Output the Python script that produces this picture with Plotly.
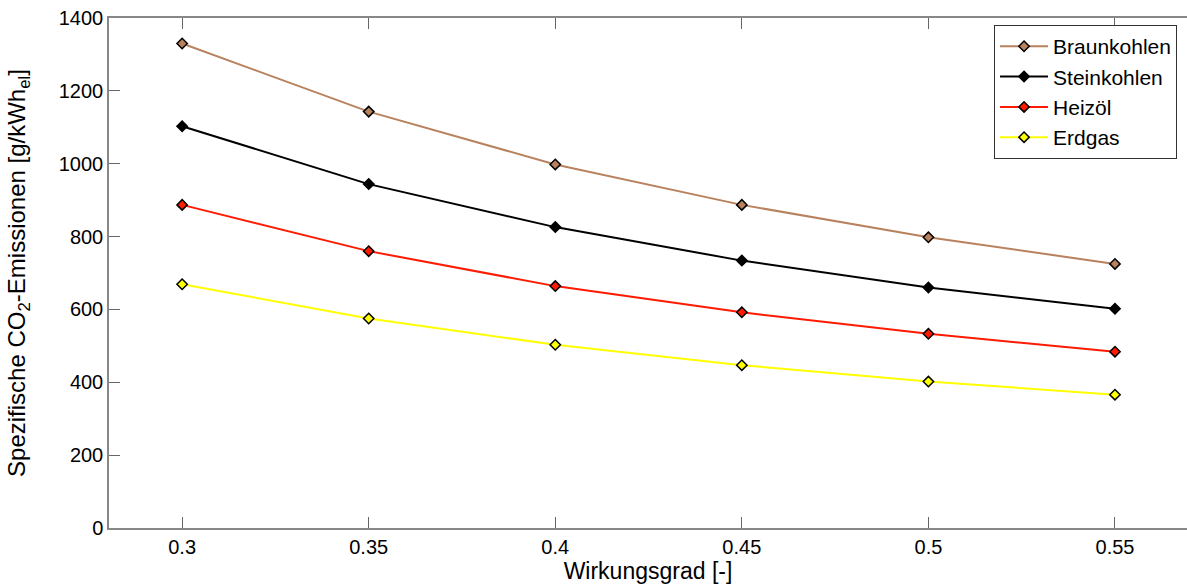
import plotly.graph_objects as go

wirkungsgrad = [0.3, 0.35, 0.4, 0.45, 0.5, 0.55]
braunkohlen = [1330, 1143, 998, 887, 798, 725]
steinkohlen = [1103, 944, 826, 734, 660, 602]
heizoel = [887, 760, 664, 592, 533, 484]
erdgas = [669, 575, 503, 447, 402, 366]

series = [
    ("Braunkohlen", braunkohlen, "#B8825E"),
    ("Steinkohlen", steinkohlen, "#000000"),
    ("Heizöl", heizoel, "#FF1A00"),
    ("Erdgas", erdgas, "#FFFF00"),
]

fig = go.Figure()
for name, vals, col in series:
    fig.add_trace(go.Scatter(
        x=wirkungsgrad, y=vals, name=name, mode="lines+markers",
        line=dict(color=col, width=2),
        marker=dict(symbol="diamond", size=8, color=col,
                    line=dict(color="black", width=1.5)),
    ))

font = dict(family="Liberation Sans, Arial, sans-serif", size=20, color="black")
fig.update_layout(
    width=1187, height=588,
    margin=dict(l=109, r=0, t=18, b=60),
    plot_bgcolor="white", paper_bgcolor="white",
    font=font,
    showlegend=True,
    legend=dict(x=0.821, y=0.986, xanchor="left", yanchor="top",
                bordercolor="#333333", borderwidth=1, bgcolor="white",
                font=dict(size=21), tracegroupgap=0, itemwidth=48),
    xaxis=dict(
        range=[0.2804, 0.5693],
        tickvals=wirkungsgrad,
        ticktext=["0.3", "0.35", "0.4", "0.45", "0.5", "0.55"],
        ticks="inside", ticklen=11, tickcolor="#666666",
        tickfont=dict(size=20),
        showline=True, linecolor="#888888", linewidth=1.5, mirror="ticks",
        showgrid=False, zeroline=False,
        title=dict(text="Wirkungsgrad [-]", standoff=2, font=dict(size=23)),
    ),
    yaxis=dict(
        range=[0, 1400], dtick=200,
        ticks="inside", ticklen=11, tickcolor="#666666",
        tickfont=dict(size=20),
        showline=True, linecolor="#888888", linewidth=1.5,
        showgrid=False, zeroline=False,
        title=dict(text="Spezifische CO<sub>2</sub>-Emissionen [g/kWh<sub>el</sub>]",
                   standoff=26, font=dict(size=24)),
    ),
)
fig.write_html("out.html")
